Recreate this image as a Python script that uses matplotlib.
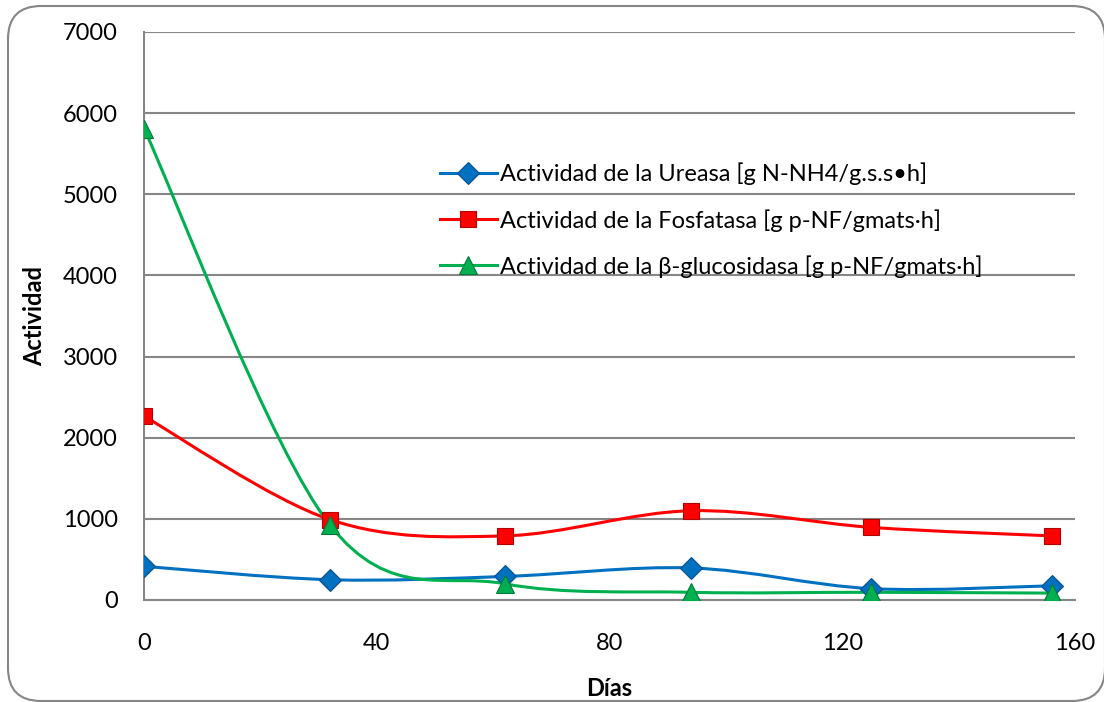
import matplotlib
matplotlib.use("Agg")
import matplotlib.pyplot as plt
import numpy as np
from matplotlib.path import Path
from matplotlib.patches import PathPatch, FancyBboxPatch
from matplotlib.lines import Line2D

plt.rcParams['font.family'] = ['Lato', 'DejaVu Sans']

# Datos
dias = [0, 32, 62, 94, 125, 156]
ureasa = [415, 250, 290, 395, 140, 175]
fosfatasa = [2265, 990, 790, 1100, 895, 790]
glucosidasa = [5810, 920, 200, 95, 95, 85]

etiquetas = [
    "Actividad de la Ureasa [g N-NH4/g.s.s\u2022h]",
    "Actividad de la Fosfatasa [g p-NF/gmats\u00b7h]",
    "Actividad de la \u03b2-glucosidasa [g p-NF/gmats\u00b7h]",
]
colores = ["#0070C0", "#FF0000", "#00B050"]
bordes = ["#0A4F8C", "#B00000", "#007A38"]
marcadores = ["D", "s", "^"]
tamanos = [11, 12, 13]


def curva_suave(x, y):
    # Bezier tipo Excel (Catmull-Rom, factor 1/6)
    x = np.asarray(x, float)
    y = np.asarray(y, float)
    n = len(x)
    verts = [(x[0], y[0])]
    codes = [Path.MOVETO]
    for i in range(n - 1):
        x0, y0 = (x[i - 1], y[i - 1]) if i > 0 else (x[i], y[i])
        x3, y3 = (x[i + 2], y[i + 2]) if i + 2 < n else (x[i + 1], y[i + 1])
        c1 = (x[i] + (x[i + 1] - x0) / 6, y[i] + (y[i + 1] - y0) / 6)
        c2 = (x[i + 1] - (x3 - x[i]) / 6, y[i + 1] - (y3 - y[i]) / 6)
        verts += [c1, c2, (x[i + 1], y[i + 1])]
        codes += [Path.CURVE4] * 3
    return Path(verts, codes)


fig = plt.figure(figsize=(11.04, 7.02), dpi=100)
ax = fig.add_axes([144 / 1104, 1 - 600 / 702, (1075 - 144) / 1104, (600 - 32) / 702])

# borde redondeado del gráfico
borde = FancyBboxPatch((8 / 1104, 1 / 702), (1105 - 8) / 1104, (701 - 6) / 702,
                       boxstyle="round,pad=0,rounding_size=0.03",
                       transform=fig.transFigure, facecolor="none",
                       edgecolor="#868686", linewidth=1.5, zorder=0,
                       mutation_aspect=1104 / 702)
fig.patches.append(borde)

series = [ureasa, fosfatasa, glucosidasa]
handles = []
for vals, col, bc, mk, ms, lab in zip(series, colores, bordes, marcadores, tamanos, etiquetas):
    ax.add_patch(PathPatch(curva_suave(dias, vals), facecolor="none",
                           edgecolor=col, linewidth=2.2, zorder=3))
    ax.plot(dias, vals, linestyle="none", marker=mk, markersize=ms,
            markerfacecolor=col, markeredgecolor=bc, markeredgewidth=0.8, zorder=4)
    handles.append(Line2D([], [], color=col, linewidth=2.2, marker=mk,
                          markersize=ms, markerfacecolor=col,
                          markeredgecolor=bc, markeredgewidth=0.8))

ax.set_xlim(0, 160)
ax.set_ylim(0, 7000)
ax.set_xticks([0, 40, 80, 120, 160])
ax.set_yticks(np.arange(0, 7001, 1000))
ax.tick_params(length=0, labelsize=17)
ax.tick_params(axis="x", pad=24)
ax.tick_params(axis="y", pad=19)
ax.grid(axis="y", color="#868686", linewidth=1.5)
ax.set_axisbelow(True)
for s in ["top", "right"]:
    ax.spines[s].set_visible(False)
for s in ["left", "bottom"]:
    ax.spines[s].set_color("#868686")
    ax.spines[s].set_linewidth(1.5)

ax.set_xlabel("Días", fontsize=17, fontweight="bold", labelpad=16)
ax.set_ylabel("Actividad", fontsize=17, fontweight="bold", labelpad=12)

ax.legend(handles, etiquetas, loc="upper left", bbox_to_anchor=(0.318, 0.77),
          frameon=False, fontsize=17, handlelength=2.4, handletextpad=0.15,
          labelspacing=1.0, borderpad=0, borderaxespad=0)

fig.savefig("out.png", dpi=100)
